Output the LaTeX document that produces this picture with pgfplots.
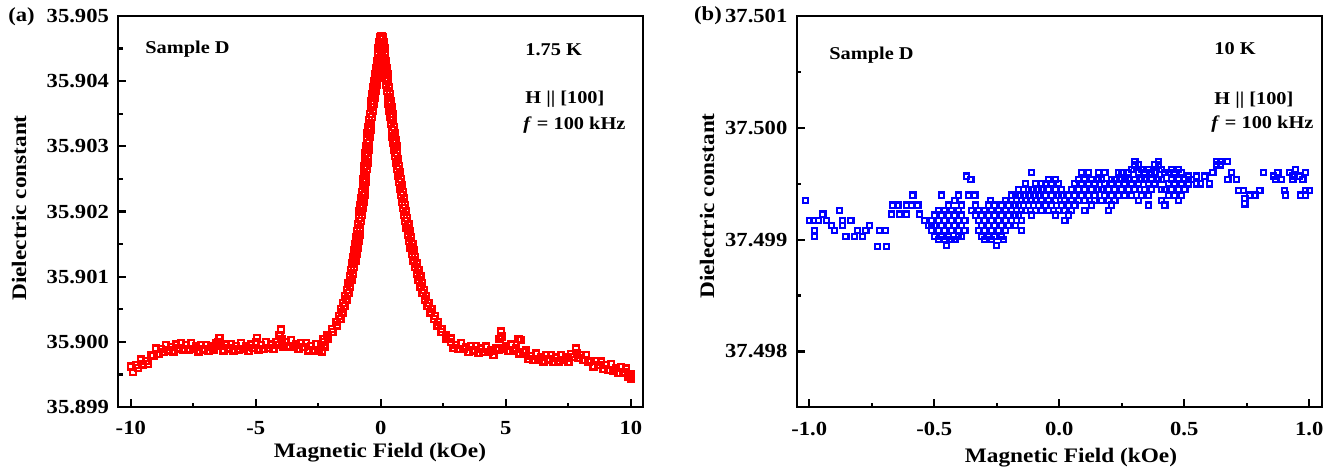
\documentclass[border=0pt]{standalone}
\usepackage{fontspec}
\setmainfont{Liberation Serif}[FakeStretch=1.13]
\usepackage{pgfplots}
\pgfplotsset{compat=1.18}

\definecolor{dataRed}{RGB}{255,0,0}
\definecolor{dataBlue}{RGB}{0,0,255}

\newcommand\tk{\fontsize{10}{12}\selectfont\bfseries}
\newcommand\lab{\fontsize{10.3}{12}\selectfont\bfseries}
\newcommand\ann{\fontsize{9}{11}\selectfont\bfseries}

% narrow ranges: y is stored as offset in units of 1e-5
% (a) y = 35.899 + c*1e-5   (b) y = 37.498 + c*1e-5
\pgfplotsset{
  panel/.style={
    scale only axis, anchor=south west,
    width=262.5pt, height=195.5pt,
    axis line style={line width=1.1pt},
    tick align=inside, tick pos=left,
    major tick length=4pt, minor tick length=2.2pt,
    every tick/.style={black, line width=1.1pt},
    tick label style={font=\tk},
    yticklabel style={inner sep=0pt, xshift=-4.5pt},
    xticklabel style={inner sep=0pt, yshift=-7pt},
  },
}

\begin{document}
\begin{tikzpicture}
\useasboundingbox (0,0) rectangle (667pt,236pt);

% ---------- (a) 1.75 K ----------
\begin{axis}[panel, at={(59.15pt,32.5pt)},
  xmin=-10.5, xmax=10.5, ymin=0, ymax=600,
  xtick={-10,-5,0,5,10}, xticklabels={-10,-5,0,5,10},
  minor xtick={-7.5,-2.5,2.5,7.5},
  ytick={0,100,200,300,400,500,600},
  yticklabels={35.899,35.900,35.901,35.902,35.903,35.904,35.905},
  minor ytick={50,150,250,350,450,550},
]
\addplot[dataRed, only marks, mark=square, mark size=1.5pt, line width=1.2pt] coordinates {
  (-10.0,62) (-9.9,54) (-9.8,64) (-9.7,60) (-9.6,73) (-9.5,65) (-9.4,71) (-9.3,66)
  (-9.2,79) (-9.1,78) (-9.0,90) (-8.9,81) (-8.8,89) (-8.7,84) (-8.6,95) (-8.5,87)
  (-8.4,92) (-8.3,85) (-8.2,96) (-8.1,90) (-8.0,98) (-7.9,88) (-7.8,95) (-7.7,88)
  (-7.6,98) (-7.5,89) (-7.4,93) (-7.3,85) (-7.2,95) (-7.1,88) (-7.0,95) (-6.9,86)
  (-6.8,93) (-6.7,88) (-6.6,98) (-6.5,100) (-6.45,106) (-6.4,94) (-6.3,87) (-6.2,96)
  (-6.1,90) (-6.0,97) (-5.9,87) (-5.8,94) (-5.7,88) (-5.6,98) (-5.5,89) (-5.4,93)
  (-5.3,86) (-5.2,96) (-5.1,91) (-5.0,100) (-4.95,106) (-4.9,88) (-4.8,95) (-4.7,89)
  (-4.6,100) (-4.5,91) (-4.4,96) (-4.3,89) (-4.2,100) (-4.1,95) (-4.05,110) (-4.0,119)
  (-3.98,104) (-3.95,96) (-3.9,93) (-3.8,100) (-3.7,93) (-3.6,103) (-3.5,93) (-3.4,96)
  (-3.3,89) (-3.2,98) (-3.1,92) (-3.0,98) (-2.9,87) (-2.8,94) (-2.7,87) (-2.6,97)
  (-2.5,87) (-2.4,93) (-2.35,85) (-2.3,104) (-2.25,92)
  % left flank
  (-2.30,100) (-2.11,105) (-2.13,110) (-1.94,115) (-1.95,120) (-1.76,125) (-1.77,130)
  (-1.62,135) (-1.67,140) (-1.53,145) (-1.59,150) (-1.45,155) (-1.51,160) (-1.37,165)
  (-1.44,170) (-1.30,175) (-1.36,180) (-1.23,185) (-1.30,190) (-1.17,195) (-1.24,200)
  (-1.12,205) (-1.19,210) (-1.07,215) (-1.14,220) (-1.02,225) (-1.09,230) (-0.97,235)
  (-1.05,240) (-0.93,245) (-1.01,250) (-0.90,255) (-0.98,260) (-0.86,265) (-0.95,270)
  (-0.83,275) (-0.91,280) (-0.80,285) (-0.88,290) (-0.76,295) (-0.85,300) (-0.73,305)
  (-0.81,310) (-0.70,315) (-0.78,320) (-0.66,325) (-0.75,330) (-0.63,335) (-0.72,340)
  (-0.61,345) (-0.70,350) (-0.59,355) (-0.67,360) (-0.56,365) (-0.65,370) (-0.54,375)
  (-0.63,380) (-0.52,385) (-0.61,390) (-0.50,395) (-0.58,400) (-0.47,405) (-0.55,410)
  (-0.44,415) (-0.53,420) (-0.41,425) (-0.50,430) (-0.39,435) (-0.47,440) (-0.36,445)
  (-0.44,450) (-0.32,455) (-0.40,460) (-0.29,465) (-0.37,470) (-0.25,475) (-0.33,480)
  (-0.22,485) (-0.30,490) (-0.18,495) (-0.25,500) (-0.13,505) (-0.21,510) (-0.09,515)
  (-0.17,520) (-0.05,525) (-0.14,530) (-0.03,535) (-0.11,540) (0.00,545) (-0.09,550)
  (0.02,555) (-0.07,560) (0.03,565) (-0.03,568) (0.02,569) (0.06,568)
  % right flank
  (0.12,560) (0.04,565) (0.14,550) (0.03,555) (0.17,540) (0.05,545) (0.19,530) (0.08,535)
  (0.22,520) (0.11,525) (0.26,510) (0.14,515) (0.29,500) (0.18,505) (0.33,490) (0.21,495)
  (0.36,480) (0.24,485) (0.39,470) (0.28,475) (0.43,460) (0.31,465) (0.46,450) (0.34,455)
  (0.49,440) (0.38,445) (0.53,430) (0.41,435) (0.56,420) (0.44,425) (0.59,410) (0.47,415)
  (0.62,400) (0.50,405) (0.65,390) (0.53,395) (0.69,380) (0.57,385) (0.73,370) (0.61,375)
  (0.77,360) (0.65,365) (0.80,350) (0.68,355) (0.84,340) (0.72,345) (0.88,330) (0.76,335)
  (0.92,320) (0.80,325) (0.97,310) (0.84,315) (1.01,300) (0.89,305) (1.05,290) (0.93,295)
  (1.10,280) (0.97,285) (1.15,270) (1.02,275) (1.20,260) (1.08,265) (1.26,250) (1.13,255)
  (1.31,240) (1.18,245) (1.37,230) (1.24,235) (1.44,220) (1.31,225) (1.51,210) (1.37,215)
  (1.58,200) (1.44,205) (1.65,190) (1.51,195) (1.72,180) (1.58,185) (1.81,170) (1.67,175)
  (1.90,160) (1.76,165) (2.03,150) (1.87,155) (2.16,140) (1.99,145) (2.29,130) (2.13,135)
  (2.43,120) (2.26,125) (2.60,110) (2.42,115) (2.81,100) (2.60,105)
  % right tail
  (2.8,105) (2.9,91) (3.0,95) (3.1,89) (3.2,98) (3.3,89) (3.4,92) (3.5,84) (3.6,94)
  (3.7,87) (3.8,94) (3.9,83) (4.0,90) (4.1,84) (4.2,93) (4.3,84) (4.4,87) (4.5,80)
  (4.6,91) (4.7,88) (4.75,104) (4.8,116) (4.85,108) (4.9,90) (5.0,94) (5.1,86) (5.2,96)
  (5.3,86) (5.4,90) (5.5,104) (5.55,82) (5.6,103) (5.7,84) (5.8,87) (5.9,74) (6.0,78)
  (6.1,72) (6.2,82) (6.3,73) (6.4,77) (6.5,70) (6.6,80) (6.7,73) (6.8,80) (6.9,69)
  (7.0,76) (7.1,70) (7.2,80) (7.3,72) (7.4,76) (7.5,69) (7.6,81) (7.7,77) (7.8,90)
  (7.85,83) (7.9,75) (8.0,80) (8.1,72) (8.2,80) (8.3,69) (8.4,71) (8.5,62) (8.6,71)
  (8.7,64) (8.8,70) (8.9,58) (9.0,64) (9.1,57) (9.2,66) (9.3,56) (9.4,60) (9.5,52)
  (9.6,61) (9.7,53) (9.8,59) (9.9,47) (10.0,50) (10.0,44)
};
\end{axis}

% ---------- (b) 10 K ----------
\begin{axis}[panel, at={(398.35pt,32.35pt)},
  xmin=-1.05, xmax=1.05, ymin=-50, ymax=300,
  xtick={-1,-0.5,0,0.5,1}, xticklabels={-1.0,-0.5,0.0,0.5,1.0},
  minor xtick={-0.75,-0.25,0.25,0.75},
  ytick={0,100,200,300},
  yticklabels={37.498,37.499,37.500,37.501},
  minor ytick={50,150,250},
]
\addplot[dataBlue, only marks, mark=square, mark size=1.3pt, line width=1.1pt] coordinates {
  (-1.016,135) (-1.000,117) (-0.982,117) (-0.980,108) (-0.980,103) (-0.964,117)
  (-0.945,123) (-0.930,117) (-0.912,113) (-0.900,108) (-0.880,126) (-0.867,113)
  (-0.867,117) (-0.853,103) (-0.833,117) (-0.820,103) (-0.806,108) (-0.786,103)
  (-0.773,108) (-0.760,113) (-0.726,94) (-0.720,108) (-0.695,108) (-0.690,94)
  (-0.672,123) (-0.665,131) (-0.645,131) (-0.638,123) (-0.612,123) (-0.610,131)
  (-0.592,131) (-0.585,140) (-0.565,131) (-0.558,123) (-0.538,117) (-0.524,113)
  (-0.511,108) (-0.511,113) (-0.511,117)
  (-0.497,103) (-0.497,113) (-0.497,122)
  (-0.484,100) (-0.484,108) (-0.484,117) (-0.484,126)
  (-0.470,103) (-0.470,113) (-0.470,122) (-0.470,140)
  (-0.457,100) (-0.457,108) (-0.457,117) (-0.457,126) (-0.450,95)
  (-0.443,103) (-0.443,113) (-0.443,122) (-0.443,131)
  (-0.430,100) (-0.430,108) (-0.430,117) (-0.430,126)
  (-0.417,100) (-0.417,113) (-0.417,122) (-0.417,135)
  (-0.404,103) (-0.404,108) (-0.404,117) (-0.404,126) (-0.404,140)
  (-0.390,103) (-0.390,113) (-0.390,122) (-0.390,131)
  (-0.377,108) (-0.377,117) (-0.370,157) (-0.364,140) (-0.353,154) (-0.350,126)
  (-0.337,140) (-0.334,131) (-0.334,122)
  (-0.323,108) (-0.323,117) (-0.323,126)
  (-0.310,103) (-0.310,113) (-0.310,122)
  (-0.297,100) (-0.297,108) (-0.297,117) (-0.297,126)
  (-0.284,103) (-0.284,113) (-0.284,122) (-0.284,131) (-0.276,135)
  (-0.270,100) (-0.270,108) (-0.270,117) (-0.270,126)
  (-0.257,103) (-0.257,113) (-0.257,122) (-0.257,131) (-0.250,95)
  (-0.243,108) (-0.243,117) (-0.243,126)
  (-0.230,103) (-0.230,113) (-0.230,122) (-0.230,131) (-0.223,100)
  (-0.216,108) (-0.216,117) (-0.216,126) (-0.216,135)
  (-0.203,113) (-0.203,122) (-0.203,131)
  (-0.190,117) (-0.190,126) (-0.190,135) (-0.190,140)
  (-0.176,113) (-0.176,122) (-0.176,131) (-0.176,140)
  (-0.163,122) (-0.163,131) (-0.163,140) (-0.163,145)
  (-0.150,108) (-0.150,117) (-0.150,126) (-0.150,135)
  (-0.136,126) (-0.136,135) (-0.136,140) (-0.136,150)
  (-0.123,131) (-0.123,140) (-0.123,145)
  (-0.110,160) (-0.110,135) (-0.110,145) (-0.110,122)
  (-0.096,126) (-0.096,135) (-0.096,140) (-0.096,150)
  (-0.083,131) (-0.083,140) (-0.083,145)
  (-0.070,126) (-0.070,135) (-0.070,145) (-0.070,150)
  (-0.056,131) (-0.056,140) (-0.056,150)
  (-0.043,126) (-0.043,135) (-0.043,145) (-0.043,154)
  (-0.030,131) (-0.030,140) (-0.030,150)
  (-0.016,122) (-0.016,135) (-0.016,145) (-0.016,154)
  (-0.003,126) (-0.003,140) (-0.003,150)
  (0.010,131) (0.010,140) (0.010,145)
  (0.023,126) (0.023,135) (0.023,117)
  (0.036,122) (0.036,131) (0.036,140)
  (0.050,126) (0.050,135) (0.050,145)
  (0.063,131) (0.063,140) (0.063,150)
  (0.076,135) (0.076,145) (0.076,154)
  (0.090,140) (0.090,150) (0.090,160)
  (0.103,135) (0.103,145) (0.103,154) (0.103,126)
  (0.116,140) (0.116,150) (0.116,160)
  (0.130,131) (0.130,145) (0.130,154)
  (0.143,135) (0.143,140) (0.143,150)
  (0.156,145) (0.156,154) (0.156,160)
  (0.170,135) (0.170,145) (0.170,154)
  (0.183,140) (0.183,150) (0.183,160)
  (0.196,126) (0.196,135) (0.196,145)
  (0.210,131) (0.210,140) (0.210,150) (0.210,154)
  (0.223,135) (0.223,145) (0.223,154)
  (0.236,140) (0.236,150) (0.236,160)
  (0.250,145) (0.250,154) (0.250,160)
  (0.263,140) (0.263,150) (0.263,154)
  (0.276,145) (0.276,154) (0.276,160)
  (0.290,140) (0.290,150) (0.290,163)
  (0.303,145) (0.303,154) (0.303,167) (0.303,170)
  (0.316,135) (0.316,150) (0.316,160) (0.316,167)
  (0.330,140) (0.330,154) (0.330,163)
  (0.343,145) (0.343,154) (0.343,160)
  (0.356,131) (0.356,140) (0.356,150) (0.356,163)
  (0.370,145) (0.370,154) (0.370,160)
  (0.383,150) (0.383,160) (0.383,167)
  (0.396,154) (0.396,167) (0.396,170)
  (0.410,135) (0.410,145) (0.410,154) (0.410,163)
  (0.423,131) (0.423,145) (0.423,160)
  (0.436,140) (0.436,150) (0.436,160)
  (0.450,145) (0.450,154) (0.450,163)
  (0.463,140) (0.463,150) (0.463,160)
  (0.476,135) (0.476,145) (0.476,154) (0.476,163)
  (0.490,140) (0.490,150) (0.490,160)
  (0.503,145) (0.503,154) (0.516,150) (0.516,157) (0.530,154)
  (0.550,157) (0.550,150) (0.566,150) (0.583,157) (0.600,150)
  (0.615,160) (0.628,167) (0.628,170) (0.645,170) (0.645,167) (0.672,170)
  (0.675,154) (0.690,160) (0.710,154) (0.716,144) (0.736,144) (0.743,137)
  (0.743,132) (0.763,140) (0.783,140) (0.803,144) (0.816,160) (0.856,157)
  (0.865,154) (0.875,160) (0.890,154) (0.900,144) (0.905,140) (0.920,160)
  (0.935,157) (0.935,154) (0.945,163) (0.960,157) (0.965,140) (0.975,154)
  (0.985,160) (0.985,144) (0.985,140) (1.000,144)
};
\end{axis}

% ---------- texts ----------
\node[font=\tk] at (10.75pt,227.5pt) {(a)};
\node[font=\tk] at (354pt,228pt) {(b)};

\node[font=\ann, anchor=west, inner sep=0pt] at (72.5pt,211.5pt) {Sample D};
\node[font=\ann, anchor=west, inner sep=0pt] at (262.5pt,211pt) {1.75 K};
\node[font=\ann, anchor=west, inner sep=0pt] at (262.5pt,186.5pt) {H || [100]};
\node[font=\ann, anchor=west, inner sep=0pt] at (261.5pt,173.5pt) {\textit{f} = 100 kHz};

\node[font=\ann, anchor=west, inner sep=0pt] at (414.5pt,208.5pt) {Sample D};
\node[font=\ann, anchor=west, inner sep=0pt] at (607pt,211.5pt) {10 K};
\node[font=\ann, anchor=west, inner sep=0pt] at (607pt,186pt) {H || [100]};
\node[font=\ann, anchor=west, inner sep=0pt] at (605.5pt,174pt) {\textit{f} = 100 kHz};

\node[font=\lab, rotate=90] at (9.5pt,132pt) {Dielectric constant};
\node[font=\lab, rotate=90] at (353.5pt,133pt) {Dielectric constant};
\node[font=\lab] at (190pt,9.5pt) {Magnetic Field (kOe)};
\node[font=\lab] at (535.5pt,7pt) {Magnetic Field (kOe)};
\end{tikzpicture}
\end{document}
